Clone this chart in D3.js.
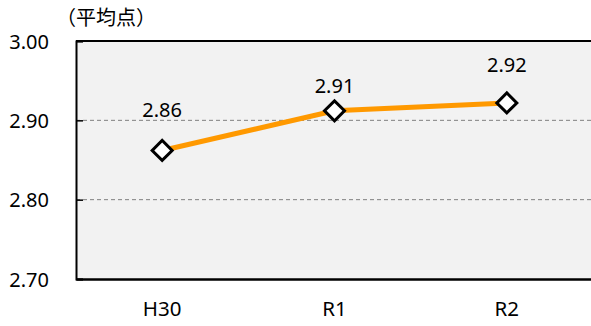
<!DOCTYPE html>
<html><head><meta charset="utf-8">
<script src="https://cdn.jsdelivr.net/npm/d3@7"></script>
<style>
html,body{margin:0;padding:0;background:#fff;}
svg{display:block;font-family:"Noto Sans","Noto Sans CJK JP",sans-serif;}
</style></head>
<body>
<script>
const categories = ["H30", "R1", "R2"];
const values = [2.862, 2.912, 2.922];
const valueLabels = ["2.86", "2.91", "2.92"];
const yTicks = [2.70, 2.80, 2.90, 3.00];
const yTitle = "（平均点）";
const labelDy = [-33, -18, -31];

const W = 591, H = 326;
const m = {left: 76, right: -2, top: 41, bottom: 47};
const svg = d3.select("body").append("svg").attr("width", W).attr("height", H);

const x = d3.scaleBand().domain(categories).range([m.left, W - m.right]);
const y = d3.scaleLinear().domain([2.70, 3.00]).range([H - m.bottom, m.top]);

svg.append("rect").attr("x", m.left).attr("y", m.top)
  .attr("width", W - m.right - m.left).attr("height", H - m.bottom - m.top)
  .attr("fill", "#f2f2f2");

// gridlines
svg.append("g").selectAll("line").data(yTicks.filter(d => d > 2.70 && d < 3.00)).join("line")
  .attr("x1", m.left).attr("x2", W)
  .attr("y1", d => y(d)).attr("y2", d => y(d))
  .attr("stroke", "#808080").attr("stroke-width", 1).attr("stroke-dasharray", "4,3");

// y axis
const yAxis = d3.axisLeft(y).tickValues(yTicks).tickFormat(d3.format(".2f")).tickSize(-7).tickPadding(27);
const gy = svg.append("g").attr("transform", `translate(${m.left},0)`).call(yAxis);
gy.select(".domain").attr("stroke", "#000").attr("stroke-width", 2);
gy.selectAll(".tick line").attr("stroke", "#000").attr("stroke-width", 1.5);
gy.selectAll(".tick text").attr("font-size", 20).attr("fill", "#000")
  .attr("font-family", "'Noto Sans',sans-serif").attr("dy", "0.36em");

// top border
svg.append("line").attr("x1", m.left).attr("x2", W).attr("y1", m.top).attr("y2", m.top)
  .attr("stroke", "#000").attr("stroke-width", 2);

// x axis
const xAxis = d3.axisBottom(x).tickSize(0).tickPadding(22);
const gx = svg.append("g").attr("transform", `translate(0,${H - m.bottom})`).call(xAxis);
gx.select(".domain").attr("stroke", "#000").attr("stroke-width", 2.5);
gx.selectAll(".tick text").attr("font-size", 20.5).attr("fill", "#000")
  .attr("font-family", "'Noto Sans',sans-serif");

// title
svg.append("text").attr("x", 56).attr("y", 25).text(yTitle)
  .attr("font-size", 20).attr("font-family", "'Noto Sans CJK JP',sans-serif").attr("fill", "#000");

const cx = d => x(d) + x.bandwidth() / 2;

// line
svg.append("path").datum(values)
  .attr("d", d3.line().x((d, i) => cx(categories[i])).y(d => y(d)))
  .attr("fill", "none").attr("stroke", "#ff9900").attr("stroke-width", 5);

// markers
svg.append("g").selectAll("path").data(values).join("path")
  .attr("d", d3.symbol().type(d3.symbolSquare).size(200)())
  .attr("transform", (d, i) => `translate(${cx(categories[i])},${y(d)}) rotate(45)`)
  .attr("fill", "#fff").attr("stroke", "#000").attr("stroke-width", 3);

// labels
svg.append("g").selectAll("text").data(values).join("text")
  .attr("x", (d, i) => cx(categories[i]))
  .attr("y", (d, i) => y(d) + labelDy[i])
  .attr("text-anchor", "middle").attr("font-size", 20).attr("fill", "#000")
  .text((d, i) => valueLabels[i]);
</script>
</body></html>
